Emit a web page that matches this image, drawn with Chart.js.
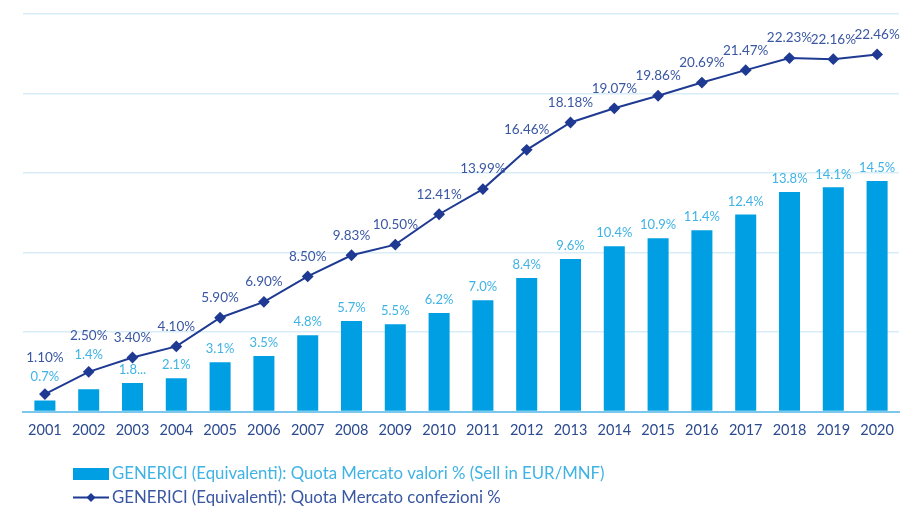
<!DOCTYPE html>
<html>
<head>
<meta charset="utf-8">
<script src="https://cdn.jsdelivr.net/npm/chart.js@4"></script>
<style>
  html, body { margin: 0; padding: 0; background: #ffffff; }
  #wrap { width: 920px; height: 523px; position: relative; }
</style>
</head>
<body>
<div id="wrap"><canvas id="genericiChart"></canvas></div>
<script>
let years = ["2001", "2002", "2003", "2004", "2005", "2006", "2007", "2008", "2009", "2010",
             "2011", "2012", "2013", "2014", "2015", "2016", "2017", "2018", "2019", "2020"];

// quota mercato valori % (bars)
let quotaValori = [0.7, 1.4, 1.8, 2.1, 3.1, 3.5, 4.8, 5.7, 5.5, 6.2,
                   7.0, 8.4, 9.6, 10.4, 10.9, 11.4, 12.4, 13.8, 14.1, 14.5];

// quota mercato confezioni % (line)
let quotaConfezioni = [1.10, 2.50, 3.40, 4.10, 5.90, 6.90, 8.50, 9.83, 10.50, 12.41,
                       13.99, 16.46, 18.18, 19.07, 19.86, 20.69, 21.47, 22.23, 22.16, 22.46];

// label that excel cut short in the original
let barLabelOverrides = { "2003": "1.8..." };

let barColor = "#009fe3";
let barLabelColor = "#3fb3e5";
let lineColor = "#1f3a93";
let lineLabelColor = "#3a57a3";
let FONT = "Lato, 'Open Sans', sans-serif";

// value labels above bars and line points
let labelPlugin = {
    id: "valueLabels",
    afterDatasetsDraw(chart) {
        let ctx = chart.ctx;
        let bars = chart.getDatasetMeta(0).data;
        let points = chart.getDatasetMeta(1).data;
        ctx.save();
        ctx.textAlign = "center";
        ctx.textBaseline = "middle";
        bars.forEach((bar, i) => {
            let pt = points[i];
            let by = bar.y - 13;
            if (Math.abs(pt.y - by) < 10) by = pt.y - 17;
            let txt = barLabelOverrides[years[i]] || quotaValori[i].toFixed(1) + "%";
            ctx.font = "13px " + FONT;
            ctx.fillStyle = barLabelColor;
            ctx.fillText(txt, bar.x, by);

            let ly = Math.min(pt.y - 20, by - 19);
            ctx.font = "13.5px " + FONT;
            ctx.fillStyle = lineLabelColor;
            ctx.fillText(quotaConfezioni[i].toFixed(2) + "%", pt.x, ly);
        });
        ctx.restore();
    },
};

// two-row legend at the bottom left
let legendPlugin = {
    id: "rowLegend",
    afterDraw(chart) {
        let ctx = chart.ctx;
        let ds = chart.data.datasets;
        ctx.save();
        ctx.font = "16.8px " + FONT;
        ctx.textBaseline = "middle";
        ctx.textAlign = "left";

        ctx.fillStyle = barColor;
        ctx.fillRect(73, 468, 36, 12);
        ctx.fillStyle = barLabelColor;
        ctx.fillText(ds[0].label, 112, 474);

        ctx.strokeStyle = lineColor;
        ctx.lineWidth = 2;
        ctx.beginPath();
        ctx.moveTo(73, 497.5);
        ctx.lineTo(109, 497.5);
        ctx.stroke();
        ctx.fillStyle = lineColor;
        ctx.beginPath();
        ctx.moveTo(91, 493);
        ctx.lineTo(95.5, 497.5);
        ctx.lineTo(91, 502);
        ctx.lineTo(86.5, 497.5);
        ctx.closePath();
        ctx.fill();
        ctx.fillStyle = lineLabelColor;
        ctx.fillText(ds[1].label, 112, 497.5);
        ctx.restore();
    },
};

let genericiCtx = document.getElementById("genericiChart").getContext("2d");

let genericiChart = new Chart(genericiCtx, {
    data: {
        labels: years,
        datasets: [
            {
                type: "bar",
                label: "GENERICI (Equivalenti): Quota Mercato valori % (Sell in EUR/MNF)",
                data: quotaValori,
                backgroundColor: barColor,
                barPercentage: 0.48,
                categoryPercentage: 1,
                order: 2,
            },
            {
                type: "line",
                label: "GENERICI (Equivalenti): Quota Mercato confezioni %",
                data: quotaConfezioni,
                borderColor: lineColor,
                backgroundColor: lineColor,
                borderWidth: 2,
                pointStyle: "rectRot",
                pointRadius: 4.5,
                pointHoverRadius: 4.5,
                tension: 0,
                order: 1,
            },
        ],
    },
    options: {
        responsive: true,
        maintainAspectRatio: false,
        animation: false,
        layout: {
            padding: { left: 23, right: 21, top: 14, bottom: 74 },
        },
        plugins: {
            legend: { display: false },
            tooltip: { enabled: false },
        },
        scales: {
            x: {
                grid: { display: false, drawTicks: false },
                border: { display: true, color: "#7cc8ec", width: 2 },
                ticks: {
                    color: "#2b4a8f",
                    font: { family: FONT, size: 14.5 },
                    padding: 10,
                },
            },
            y: {
                min: 0,
                max: 25,
                ticks: { display: false, stepSize: 5 },
                grid: { color: "#d8edf8", lineWidth: 1.5, drawTicks: false },
                border: { display: false },
            },
        },
    },
    plugins: [labelPlugin, legendPlugin],
});
</script>
</body>
</html>
